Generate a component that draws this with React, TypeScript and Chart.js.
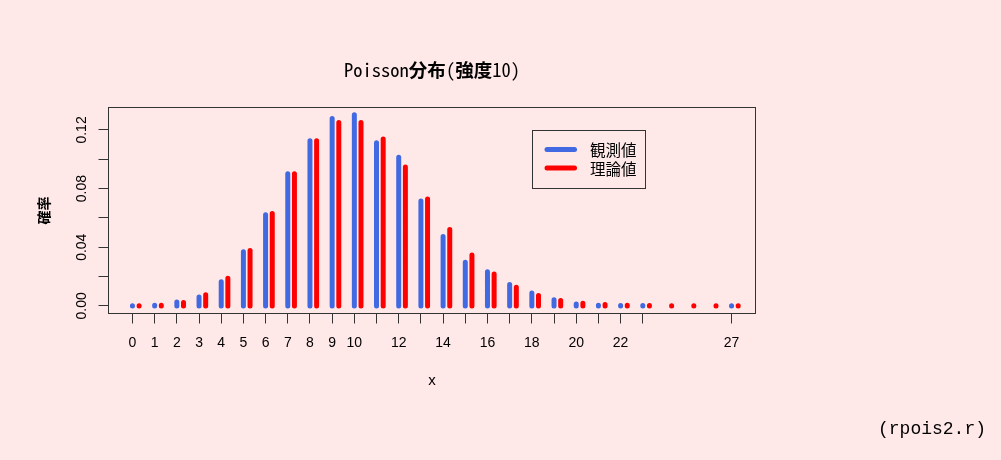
import React, { useEffect, useRef } from 'react';
import { Chart, registerables } from 'chart.js';

Chart.register(...registerables);

// ---- data ----
const xObserved = [0, 1, 2, 3, 4, 5, 6, 7, 8, 9, 10, 11, 12, 13, 14, 15, 16, 17, 18, 19, 20, 21, 22, 23, 27];
const observedProb = [
  0.0001, 0.0004, 0.0027, 0.006, 0.0164, 0.0369, 0.0621, 0.0901, 0.1126, 0.1278,
  0.1303, 0.1112, 0.1014, 0.0715, 0.0473, 0.0297, 0.0233, 0.0146, 0.0087, 0.0042,
  0.0012, 0.0004, 0.0002, 0.0002, 0.0001,
];
const xTheory = [0, 1, 2, 3, 4, 5, 6, 7, 8, 9, 10, 11, 12, 13, 14, 15, 16, 17, 18, 19, 20, 21, 22, 23, 24, 25, 26, 27];
const theoryProb = [
  0.0000454, 0.000454, 0.00227, 0.007567, 0.018917, 0.037833, 0.063055, 0.090079, 0.112599, 0.12511,
  0.12511, 0.113736, 0.09478, 0.072908, 0.052077, 0.034718, 0.021699, 0.012764, 0.007091, 0.003732,
  0.001866, 0.000889, 0.000404, 0.000176, 0.0000732, 0.0000293, 0.0000113, 0.0000042,
];
const xTickValues = [0, 1, 2, 3, 4, 5, 6, 7, 8, 9, 10, 11, 12, 13, 14, 15, 16, 17, 18, 19, 20, 21, 22, 23, 27];
const xTickLabels = ['0', '1', '2', '3', '4', '5', '6', '7', '8', '9', '10', '', '12', '', '14', '', '16', '', '18', '', '20', '', '22', '', '27'];
const yTickValues = [0, 0.02, 0.04, 0.06, 0.08, 0.1, 0.12];
const yTickLabels = ['0.00', '', '0.04', '', '0.08', '', '0.12'];
const seriesLabels = ['観測値', '理論値'];
const seriesColors = ['#4169E1', '#FF0000'];
const titleParts = [
  { text: 'Poisson', bold: false },
  { text: '分布', bold: true },
  { text: '(', bold: false },
  { text: '強度', bold: true },
  { text: '10)', bold: false },
];
const xTitle = 'x';
const yTitle = '確率';
const caption = '(rpois2.r)';

const THEORY_OFFSET = 0.3;
const BG = '#FFE8E8';
const AXIS_COLOR = '#333333';
const TICK_FONT = "'Liberation Sans Narrow', 'Liberation Sans', Arial, sans-serif";
const CJK_FONT = "'Noto Sans CJK JP', sans-serif";
const TITLE_FONT = "'Noto Sans Mono CJK JP', 'Noto Sans CJK JP', monospace";

function stems(xs: number[], ys: number[], dx: number) {
  const pts: { x: number; y: number | null }[] = [];
  xs.forEach((x, i) => {
    pts.push({ x: x + dx, y: 0 }, { x: x + dx, y: ys[i] }, { x: x + dx, y: null });
  });
  return pts;
}

const decorPlugin = {
  id: 'decor',
  afterDraw(chart: any) {
    const { ctx, chartArea: a } = chart;
    ctx.save();
    // plot box
    ctx.strokeStyle = AXIS_COLOR;
    ctx.lineWidth = 1;
    ctx.strokeRect(a.left, a.top, a.right - a.left, a.bottom - a.top);

    // main title
    ctx.fillStyle = '#000';
    ctx.textBaseline = 'middle';
    ctx.textAlign = 'left';
    const fontFor = (b: boolean) => `${b ? 'bold ' : ''}18.5px ${TITLE_FONT}`;
    let total = 0;
    const widths = titleParts.map((p) => {
      ctx.font = fontFor(p.bold);
      const w = ctx.measureText(p.text).width;
      total += w;
      return w;
    });
    let tx = (a.left + a.right) / 2 - total / 2;
    titleParts.forEach((p, i) => {
      ctx.font = fontFor(p.bold);
      ctx.fillText(p.text, tx, 70);
      tx += widths[i];
    });

    // legend
    ctx.strokeStyle = AXIS_COLOR;
    ctx.lineWidth = 1;
    ctx.strokeRect(532.5, 130.5, 113, 58);
    chart.data.datasets.forEach((ds: any, i: number) => {
      const y = 149.5 + i * 18.5;
      ctx.strokeStyle = ds.borderColor;
      ctx.lineWidth = 5;
      ctx.lineCap = 'round';
      ctx.beginPath();
      ctx.moveTo(547, y);
      ctx.lineTo(574.5, y);
      ctx.stroke();
      ctx.fillStyle = '#000';
      ctx.font = `15.5px ${CJK_FONT}`;
      ctx.textBaseline = 'middle';
      ctx.fillText(ds.label, 590, y + 1);
    });

    // caption
    ctx.fillStyle = '#000';
    ctx.font = "18px 'Liberation Mono', monospace";
    ctx.textAlign = 'right';
    ctx.textBaseline = 'middle';
    ctx.fillText(caption, 986, 429);
    ctx.restore();
  },
};

export default function App() {
  const ref = useRef<HTMLCanvasElement | null>(null);
  useEffect(() => {
    if (!ref.current) return;
    const common = {
      borderWidth: 5,
      borderCapStyle: 'round',
      borderJoinStyle: 'round',
      pointRadius: 0,
      pointHoverRadius: 0,
      tension: 0,
      spanGaps: false,
      fill: false,
    };
    const chart = new Chart(ref.current, {
      type: 'line',
      data: {
        datasets: [
          {
            ...common,
            label: seriesLabels[0],
            data: stems(xObserved, observedProb, 0),
            borderColor: seriesColors[0],
            backgroundColor: seriesColors[0],
          },
          {
            ...common,
            label: seriesLabels[1],
            data: stems(xTheory, theoryProb, THEORY_OFFSET),
            borderColor: seriesColors[1],
            backgroundColor: seriesColors[1],
          },
        ],
      } as any,
      options: {
        animation: false,
        responsive: false,
        events: [],
        layout: { padding: { left: 0, right: 245.5, top: 107.5, bottom: 0 } },
        plugins: {
          legend: { display: false },
          title: { display: false },
          tooltip: { enabled: false },
        },
        scales: {
          x: {
            type: 'linear',
            min: -1.08,
            max: 28.08,
            afterFit: (s: any) => {
              s.height = 146.5;
            },
            afterBuildTicks: (s: any) => {
              s.ticks = xTickValues.map((v) => ({ value: v }));
            },
            ticks: {
              autoSkip: false,
              maxRotation: 0,
              minRotation: 0,
              padding: 11.5,
              color: '#000',
              font: { family: TICK_FONT, size: 14 },
              callback: (_v: any, i: number) => xTickLabels[i],
            },
            grid: { drawOnChartArea: false, drawTicks: true, tickLength: 10, color: AXIS_COLOR, lineWidth: 1 },
            border: { display: false },
            title: {
              display: true,
              text: xTitle,
              color: '#000',
              font: { family: "'Liberation Sans', Arial, sans-serif", size: 15 },
              padding: { top: 0, bottom: 70.6 },
            },
          },
          y: {
            type: 'linear',
            min: -0.0052,
            max: 0.1353,
            afterFit: (s: any) => {
              s.width = 108.5;
            },
            afterBuildTicks: (s: any) => {
              s.ticks = yTickValues.map((v) => ({ value: v }));
            },
            ticks: {
              autoSkip: false,
              minRotation: 90,
              maxRotation: 90,
              crossAlign: 'center',
              padding: 3.2,
              color: '#000',
              font: { family: TICK_FONT, size: 14 },
              callback: (_v: any, i: number) => yTickLabels[i],
            },
            grid: { drawOnChartArea: false, drawTicks: true, tickLength: 10, color: AXIS_COLOR, lineWidth: 1 },
            border: { display: false },
            title: {
              display: true,
              text: yTitle,
              color: '#000',
              font: { family: CJK_FONT, size: 14, weight: 'bold' },
              padding: { top: 35.3, bottom: 0 },
            },
          },
        },
      } as any,
      plugins: [decorPlugin],
    });
    return () => chart.destroy();
  }, []);

  return (
    <div style={{ position: 'fixed', left: 0, top: 0, width: 1001, height: 460, background: BG }}>
      <canvas ref={ref} width={1001} height={460} style={{ display: 'block' }} />
    </div>
  );
}
